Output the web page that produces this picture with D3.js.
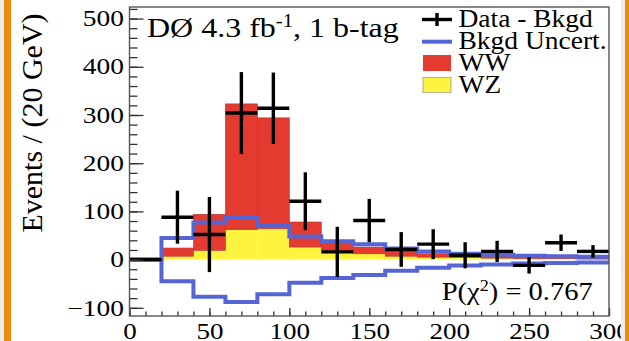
<!DOCTYPE html>
<html>
<head>
<meta charset="utf-8">
<script src="https://cdn.jsdelivr.net/npm/d3@7"></script>
<style>
  html, body { margin: 0; padding: 0; background: #fff; }
  svg { display: block; }
  text { font-family: "Liberation Serif", "DejaVu Serif", serif; fill: #000; }
</style>
</head>
<body>
<svg id="chart" width="629" height="341"></svg>
<script>
// Dijet mass bins (GeV): 20 GeV wide, 0-300
const binEdges = [0, 20, 40, 60, 80, 100, 120, 140, 160, 180, 200, 220, 240, 260, 280, 300];
// Stacked signal expectations per bin
const wzValues = [0, 7, 19, 62, 64, 26, 19, 12, 7, 5, 4, 3, 2, 2, 1];
const wwValues = [0, 17, 75, 261, 230, 52, 21, 14, 12, 7, 5, 4, 3, 2, 2];
// Background uncertainty (symmetric band around zero)
const bkgdUncert = [0, 45, 77, 88, 72, 48, 38, 32, 23, 17, 12, 10, 8, 7, 6];
// Background-subtracted data and its errors
const dataValues = [0, 88, 52, 304, 314, 121, 16, 81, 21, 32, 9, 17, -12, 35, 17];
const dataErrors = [3, 55, 78, 85, 74, 60, 52, 45, 36, 31, 27, 22, 17, 17, 13];
// Axis ticks
const xMajorTicks = [0, 50, 100, 150, 200, 250, 300];
const yMajorTicks = [-100, 0, 100, 200, 300, 400, 500];
const legendLabels = ["Data - Bkgd", "Bkgd Uncert.", "WW", "WZ"];

const svg = d3.select("#chart");
const W = 629, H = 341;
const plot = { left: 129.5, right: 609, top: 7, bottom: 316 };

const x = d3.scaleLinear().domain([0, 300]).range([plot.left, plot.right]);
const y = d3.scaleLinear().domain([-117, 524]).range([plot.bottom, plot.top]);

const RED = "#e43b31", YELLOW = "#fdf43f", BLUE = "#5565d6";

// Page edges
svg.append("rect").attr("x", 0).attr("y", 0).attr("width", W).attr("height", H).attr("fill", "#fff");

const bins = d3.range(wzValues.length).map(i => ({
  lo: binEdges[i], hi: binEdges[i + 1],
  wz: wzValues[i], ww: wwValues[i],
  unc: bkgdUncert[i], data: dataValues[i], err: dataErrors[i]
}));

// Stacked histogram: WZ at the bottom, WW on top
const g = svg.append("g");
g.selectAll("rect.wz").data(bins.filter(d => d.wz > 0)).join("rect")
  .attr("class", "wz")
  .attr("x", d => x(d.lo)).attr("width", d => x(d.hi) - x(d.lo))
  .attr("y", d => y(d.wz)).attr("height", d => y(0) - y(d.wz))
  .attr("fill", YELLOW);
g.selectAll("rect.ww").data(bins.filter(d => d.ww > 0)).join("rect")
  .attr("class", "ww")
  .attr("x", d => x(d.lo)).attr("width", d => x(d.hi) - x(d.lo))
  .attr("y", d => y(d.wz + d.ww)).attr("height", d => y(d.wz) - y(d.wz + d.ww))
  .attr("fill", RED).attr("stroke", "#b8322b").attr("stroke-width", 0.6);

// Background uncertainty band outline (step lines)
const stepLine = d3.line().curve(d3.curveStepAfter).x(d => x(d[0])).y(d => y(d[1]));
const upperPts = bins.map(d => [d.lo, d.unc]).concat([[300, bins[bins.length - 1].unc]]);
const lowerPts = bins.map(d => [d.lo, -d.unc]).concat([[300, -bins[bins.length - 1].unc]]);
[upperPts, lowerPts].forEach(pts => {
  g.append("path").attr("d", stepLine(pts))
    .attr("fill", "none").attr("stroke", BLUE).attr("stroke-width", 4)
    .attr("stroke-linejoin", "miter");
});

// Data points: bin-width bar with vertical error bar
const cross = g.selectAll("g.pt").data(bins).join("g").attr("class", "pt");
cross.append("line")
  .attr("x1", d => x(d.lo)).attr("x2", d => x(d.hi))
  .attr("y1", d => y(d.data)).attr("y2", d => y(d.data))
  .attr("stroke", "#000").attr("stroke-width", 3.4);
cross.append("line")
  .attr("x1", d => x((d.lo + d.hi) / 2)).attr("x2", d => x((d.lo + d.hi) / 2))
  .attr("y1", d => y(d.data + d.err)).attr("y2", d => y(d.data - d.err))
  .attr("stroke", "#000").attr("stroke-width", 3.4);

// Axes with inward ticks
const TICK_FONT = 22.5;
const yAxis = d3.axisLeft(y).tickValues(yMajorTicks).tickSizeInner(-14).tickSizeOuter(0).tickPadding(4.5);
const yMinor = d3.axisLeft(y).tickValues(d3.range(-100, 521, 20)).tickSizeInner(-8).tickSizeOuter(0).tickFormat("");
const xAxis = d3.axisBottom(x).tickValues(xMajorTicks).tickSizeInner(-8).tickSizeOuter(0).tickPadding(7.2);
const xMinor = d3.axisBottom(x).tickValues(d3.range(0, 301, 10)).tickSizeInner(-4.5).tickSizeOuter(0).tickFormat("");

function styleAxis(sel, sx) {
  sel.select(".domain").remove();
  sel.selectAll(".tick line").attr("stroke", "#333").attr("stroke-width", 1.3);
  sel.selectAll(".tick text")
    .attr("font-size", TICK_FONT)
    .attr("font-family", "Liberation Serif, serif")
    .attr("fill", "#000")
    .attr("transform", `scale(${sx},1)`);
}
svg.append("g").attr("transform", `translate(${plot.left},0)`).call(yMinor).call(s => styleAxis(s, 1));
svg.append("g").attr("transform", `translate(${plot.left},0)`).call(yAxis).call(s => styleAxis(s, 1.22));
svg.append("g").attr("transform", `translate(0,${plot.bottom})`).call(xMinor).call(s => styleAxis(s, 1));
svg.append("g").attr("transform", `translate(0,${plot.bottom})`).call(xAxis).call(s => styleAxis(s, 1.2));

// Frame
svg.append("rect")
  .attr("x", plot.left).attr("y", plot.top)
  .attr("width", plot.right - plot.left).attr("height", plot.bottom - plot.top)
  .attr("fill", "none").attr("stroke", "#555").attr("stroke-width", 1.4);

// Y axis title
svg.append("text")
  .attr("transform", `translate(41.5,123) rotate(-90)`)
  .attr("text-anchor", "middle")
  .attr("font-size", 30)
  .text("Events / (20 GeV)");

// Experiment label
const title = svg.append("text")
  .attr("transform", "translate(147,37.3) scale(1.155,1)")
  .attr("font-size", 27.7);
title.append("tspan").text("DØ 4.3 fb");
title.append("tspan").attr("font-size", 18).attr("dy", -10).text("-1");
title.append("tspan").attr("dy", 10).text(", 1 b-tag");

// Legend
const lg = svg.append("g");
lg.append("line").attr("x1", 422).attr("x2", 452).attr("y1", 19.5).attr("y2", 19.5)
  .attr("stroke", "#000").attr("stroke-width", 3.4);
lg.append("line").attr("x1", 437).attr("x2", 437).attr("y1", 13).attr("y2", 26)
  .attr("stroke", "#000").attr("stroke-width", 3.4);
lg.append("line").attr("x1", 422).attr("x2", 452).attr("y1", 41.7).attr("y2", 41.7)
  .attr("stroke", BLUE).attr("stroke-width", 4);
lg.append("rect").attr("x", 423).attr("y", 55).attr("width", 28).attr("height", 16)
  .attr("fill", RED);
lg.append("rect").attr("x", 423).attr("y", 77.3).attr("width", 28).attr("height", 15.4)
  .attr("fill", YELLOW).attr("stroke", "#999").attr("stroke-width", 0.8);
const legendBaselines = [26.5, 48.5, 71, 93.3];
legendLabels.forEach((lab, i) => {
  lg.append("text")
    .attr("transform", `translate(458.5,${legendBaselines[i]}) scale(1.1,1)`)
    .attr("font-size", 25)
    .text(lab);
});

// Fit probability
const pchi = svg.append("text")
  .attr("transform", "translate(441.7,300) scale(1.14,1)")
  .attr("font-size", 25);
pchi.append("tspan").text("P(χ");
pchi.append("tspan").attr("font-size", 16).attr("dy", -9).text("2");
pchi.append("tspan").attr("dy", 9).text(") = 0.767");

// Slide border strips
svg.append("rect").attr("x", 0).attr("y", 0).attr("width", 4).attr("height", H).attr("fill", "#ececec");
svg.append("rect").attr("x", 4).attr("y", 0).attr("width", 7).attr("height", H).attr("fill", "#ef8a0c");
svg.append("rect").attr("x", 621).attr("y", 0).attr("width", 4).attr("height", H).attr("fill", "#ededed");
svg.append("rect").attr("x", 625).attr("y", 0).attr("width", 4).attr("height", H).attr("fill", "#ef8a0c");
</script>
</body>
</html>
